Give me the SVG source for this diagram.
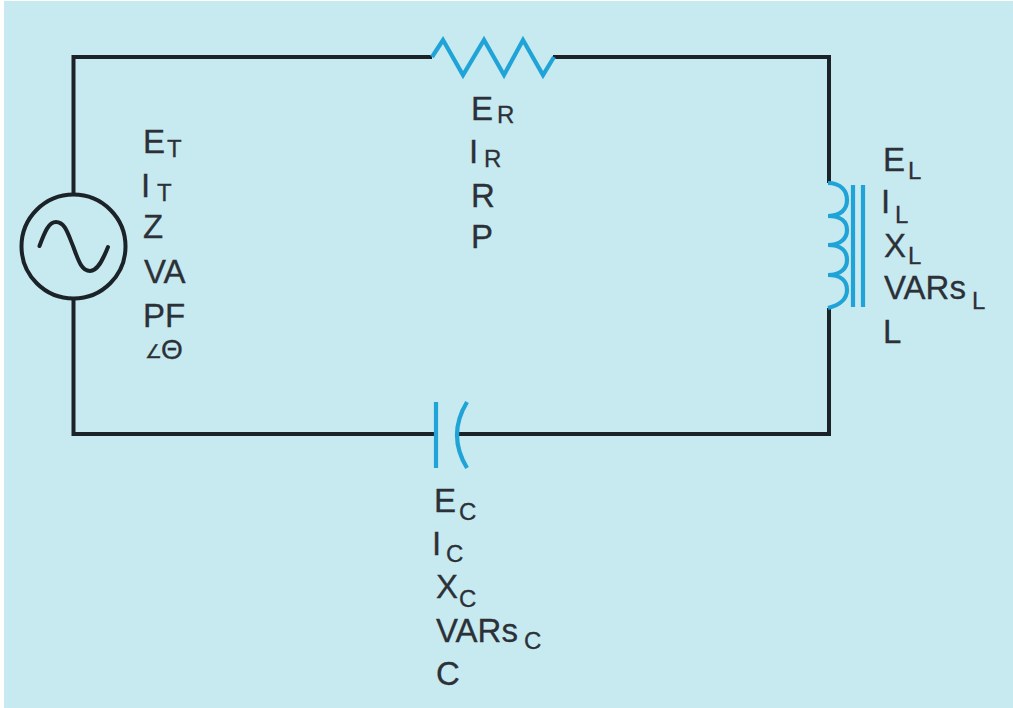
<svg xmlns="http://www.w3.org/2000/svg" width="1013" height="708" viewBox="0 0 1013 708">
<style>
.w{fill:none;stroke:#1b2329;stroke-width:4}
.b{fill:none;stroke:#20a4d8;stroke-width:4.2}
text{font-family:"Liberation Sans",Arial,sans-serif;fill:#2c3138;stroke:#2c3138;stroke-width:.3}
.m{font-size:33px}
.s{font-size:24px}
</style>
<rect width="1013" height="708" fill="#fff"/>
<rect x="4" y="1" width="1009" height="707" fill="#c7e9f0"/>
<g id="connectors">
<path class="w" d="M432 57H73.5V193M73.5 300V434H434M457 434H829V308M829 183V57H553"/>
</g>
<g id="source">
<circle class="w" cx="73.5" cy="246.5" r="52"/>
<path class="w" d="M39.5 246C45 231 49 222 56 222C65 222 68 234 73 246C78 259 81 271 90 271C97 271 102 262 108 247" stroke-linecap="round"/>
<text class="m" x="143" y="153">E</text><text class="s" x="167" y="157">T</text>
<text class="m" x="141" y="197">I</text><text class="s" x="157" y="201">T</text>
<text class="m" x="143" y="238">Z</text>
<text class="m" x="144" y="283">VA</text>
<text class="m" x="143" y="327">PF</text>
<text x="145" y="358" font-size="19">∠</text><text x="161" y="359" font-size="28">Θ</text>
</g>
<g id="resistor">
<path class="b" d="M432 57L443 40L463 75L484 40L504 75L523 40L543 75L554 57"/>
<text class="m" x="471" y="120">E</text><text class="s" x="497" y="123">R</text>
<text class="m" x="469" y="163">I</text><text class="s" x="484" y="167">R</text>
<text class="m" x="471" y="207">R</text>
<text class="m" x="471" y="248">P</text>
</g>
<g id="inductor">
<path class="b" d="M828 183C841 183 847 191 847 200C847 209 841 216 828 216C841 216 847 222 847 230C847 238 841 245 828 245C841 245 847 251 847 260C847 268 841 275 828 275C841 275 847 281 847 290C847 298 841 305 828 308"/>
<path class="b" d="M853 185V307M863 185V307"/>
<text class="m" x="883" y="171">E</text><text class="s" x="908" y="179">L</text>
<text class="m" x="881" y="213">I</text><text class="s" x="895" y="223">L</text>
<text class="m" x="884" y="257">X</text><text class="s" x="908" y="264">L</text>
<text class="m" x="884" y="299">VARs</text><text class="s" x="972" y="309">L</text>
<text class="m" x="883" y="343">L</text>
</g>
<g id="capacitor">
<path class="b" d="M436 402V468"/>
<path class="b" d="M467 402Q447 435 467 468"/>
<text class="m" x="434" y="512">E</text><text class="s" x="459" y="520">C</text>
<text class="m" x="432" y="555">I</text><text class="s" x="446" y="562">C</text>
<text class="m" x="436" y="598">X</text><text class="s" x="459" y="607">C</text>
<text class="m" x="436" y="642">VARs</text><text class="s" x="524" y="649">C</text>
<text class="m" x="436" y="685">C</text>
</g>
</svg>
